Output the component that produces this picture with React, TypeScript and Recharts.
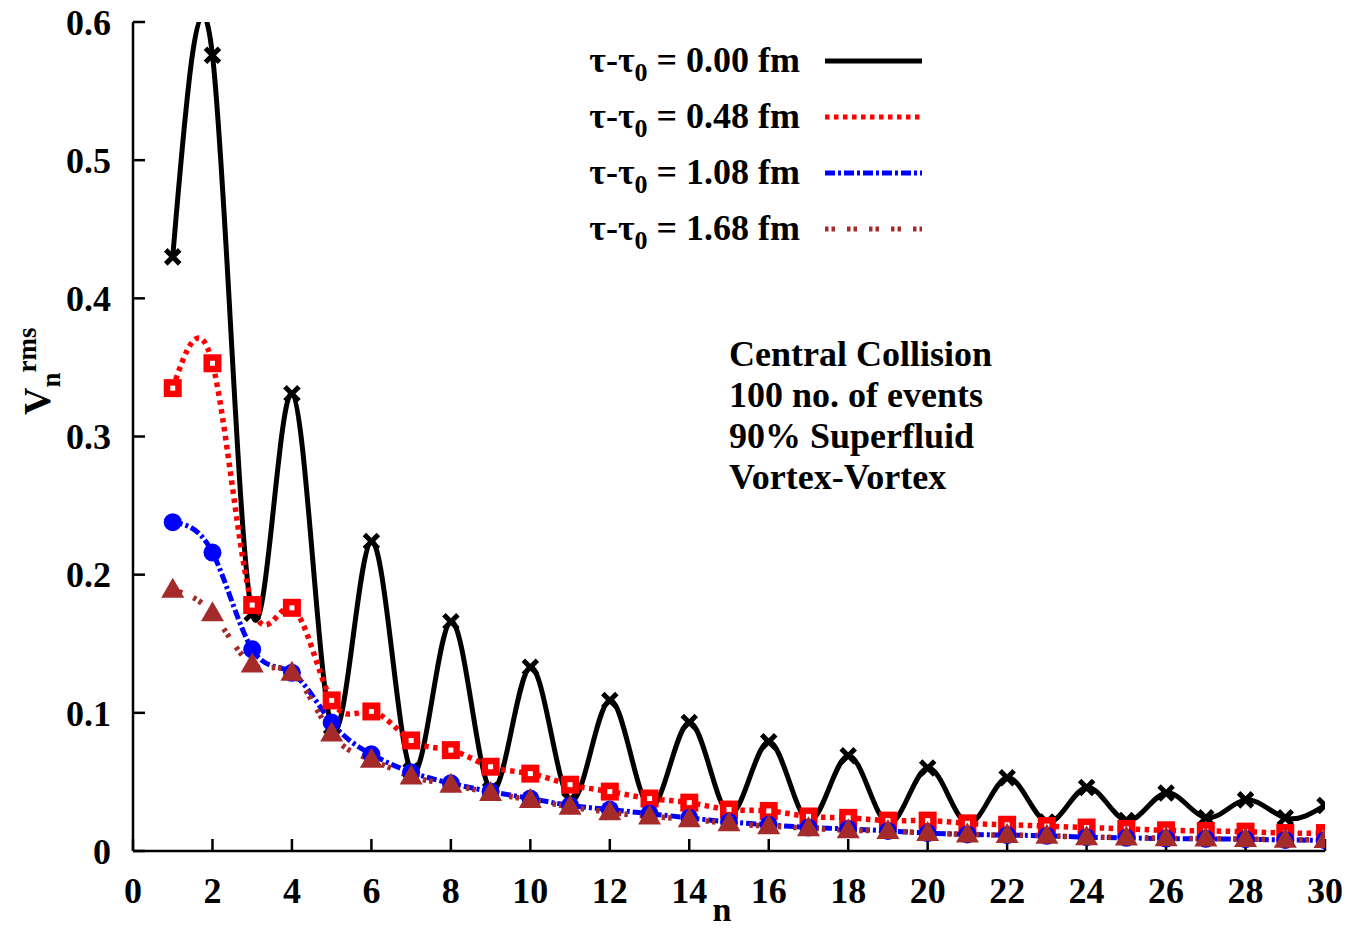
import React from 'react';
import { LineChart, Line, XAxis, YAxis } from 'recharts';

const nValues = [1,2,3,4,5,6,7,8,9,10,11,12,13,14,15,16,17,18,19,20,21,22,23,24,25,26,27,28,29,30];
const tau000 = [0.430,0.576,0.172,0.331,0.090,0.224,0.058,0.166,0.044,0.133,0.037,0.109,0.032,0.093,0.027,0.079,0.022,0.069,0.020,0.060,0.020,0.053,0.021,0.046,0.022,0.042,0.024,0.037,0.024,0.033];
const tau048 = [0.335,0.353,0.178,0.176,0.109,0.101,0.080,0.073,0.061,0.056,0.048,0.043,0.038,0.035,0.030,0.029,0.025,0.024,0.022,0.022,0.020,0.019,0.018,0.017,0.016,0.015,0.0145,0.014,0.013,0.013];
const tau108 = [0.238,0.216,0.146,0.129,0.093,0.070,0.057,0.049,0.043,0.038,0.033,0.030,0.027,0.024,0.021,0.019,0.017,0.016,0.0145,0.013,0.012,0.0115,0.011,0.010,0.0095,0.009,0.0088,0.0085,0.008,0.0078];
const tau168 = [0.189,0.172,0.135,0.129,0.085,0.066,0.054,0.048,0.042,0.037,0.032,0.028,0.025,0.023,0.020,0.018,0.0165,0.015,0.0145,0.013,0.012,0.0115,0.011,0.010,0.0098,0.0092,0.009,0.0086,0.0082,0.008];

const xTicks = [0,2,4,6,8,10,12,14,16,18,20,22,24,26,28,30];
const yTicks = [0,0.1,0.2,0.3,0.4,0.5,0.6];
const legendLabels = ['0.00','0.48','1.08','1.68'];
const noteLines = ['Central Collision','100 no. of events','90% Superfluid','Vortex-Vortex'];

const rows = nValues.map((n, i) => ({ n, a: tau000[i], b: tau048[i], c: tau108[i], d: tau168[i] }));

const FONT = "'Liberation Serif', 'Times New Roman', serif";
const RED = '#ff0000';
const BLUE = '#0000ff';
const BROWN = '#a52a2a';

const tickStyle = { fill: '#000', fontSize: 36, fontWeight: 'bold', fontFamily: FONT } as any;
const axisLineStyle = { stroke: '#000', strokeWidth: 2.5 };

const XDot = (p: any) => {
  const { cx, cy } = p;
  if (cx == null || cy == null) return <g />;
  const s = 7;
  return (
    <path d={`M${cx - s},${cy - s}L${cx + s},${cy + s}M${cx - s},${cy + s}L${cx + s},${cy - s}`} stroke="#000" strokeWidth={5} fill="none" />
  );
};
const SquareDot = (p: any) => {
  const { cx, cy } = p;
  if (cx == null || cy == null) return <g />;
  return (
    <g>
      <rect x={cx - 9} y={cy - 9} width={18} height={18} fill={RED} />
      <rect x={cx - 2.5} y={cy - 2.5} width={5} height={5} fill="#fff" />
    </g>
  );
};
const CircleDot = (p: any) => {
  const { cx, cy } = p;
  if (cx == null || cy == null) return <g />;
  return <circle cx={cx} cy={cy} r={9} fill={BLUE} />;
};
const TriDot = (p: any) => {
  const { cx, cy } = p;
  if (cx == null || cy == null) return <g />;
  return <path d={`M${cx},${cy - 12}L${cx + 11.5},${cy + 8}L${cx - 11.5},${cy + 8}Z`} fill={BROWN} />;
};

const legendStyles = [
  { stroke: '#000', dash: undefined as string | undefined },
  { stroke: RED, dash: '4.5 4.5' },
  { stroke: BLUE, dash: '10 3 3 3' },
  { stroke: BROWN, dash: '3.5 3 3.5 12' },
];

export default function App() {
  return (
    <div style={{ position: 'relative', width: 1343, height: 917 }}>
      <LineChart width={1343} height={917} data={rows} margin={{ top: 14, right: 26, left: 0, bottom: 0 }}>
        <XAxis
          dataKey="n"
          type="number"
          domain={[0, 30]}
          ticks={xTicks}
          allowDataOverflow
          height={74}
          tickSize={-12}
          tickMargin={38}
          axisLine={axisLineStyle}
          tickLine={axisLineStyle}
          tick={tickStyle}
          interval={0}
        />
        <XAxis
          xAxisId="top"
          orientation="top"
          type="number"
          domain={[0, 30]}
          ticks={xTicks}
          height={0}
          tickSize={-12}
          tickFormatter={() => ''}
          axisLine={axisLineStyle}
          tickLine={axisLineStyle}
          interval={0}
        />
        <YAxis
          type="number"
          domain={[0, 0.6]}
          ticks={yTicks}
          allowDataOverflow
          width={125}
          tickSize={-12}
          tickMargin={34}
          axisLine={axisLineStyle}
          tickLine={axisLineStyle}
          tick={tickStyle}
          interval={0}
          tickFormatter={(v: number) => (v === 0 ? '0' : v.toFixed(1))}
        />
        <YAxis
          yAxisId="right"
          orientation="right"
          type="number"
          domain={[0, 0.6]}
          ticks={yTicks}
          width={0}
          tickSize={-12}
          tickFormatter={() => ''}
          axisLine={axisLineStyle}
          tickLine={axisLineStyle}
          interval={0}
        />
        <Line type="natural" dataKey="a" stroke="#000" strokeWidth={5} dot={XDot} activeDot={false} isAnimationActive={false} />
        <Line type="natural" dataKey="b" stroke={RED} strokeWidth={5.5} strokeDasharray="4.5 4.5" dot={SquareDot} activeDot={false} isAnimationActive={false} />
        <Line type="natural" dataKey="c" stroke={BLUE} strokeWidth={5} strokeDasharray="10 3 3 3" dot={CircleDot} activeDot={false} isAnimationActive={false} />
        <Line type="natural" dataKey="d" stroke={BROWN} strokeWidth={5.5} strokeDasharray="3.5 3 3.5 12" dot={TriDot} activeDot={false} isAnimationActive={false} />
      </LineChart>
      <svg width={1343} height={917} style={{ position: 'absolute', left: 0, top: 0, pointerEvents: 'none' }}>
        {legendLabels.map((lab, i) => {
          const yLine = 53 + i * 56;
          const st = legendStyles[i];
          return (
            <g key={lab}>
              <text x={792} y={yLine + 11} textAnchor="end" fontFamily={FONT} fontWeight="bold" fontSize={36} fill="#000">
                τ-τ<tspan dy={9} fontSize={26}>0</tspan><tspan dy={-9}> = {lab} fm</tspan>
              </text>
              <line x1={817} x2={914} y1={yLine} y2={yLine} stroke={st.stroke} strokeWidth={5} strokeDasharray={st.dash} />
            </g>
          );
        })}
        {noteLines.map((t, i) => (
          <text key={t} x={721} y={358 + i * 41} fontFamily={FONT} fontWeight="bold" fontSize={36} fill="#000">{t}</text>
        ))}
        <text x={714} y={913} textAnchor="middle" fontFamily={FONT} fontWeight="bold" fontSize={34} fill="#000">n</text>
        <text x={42} y={407} transform="rotate(-90, 42, 407)" fontFamily={FONT} fontWeight="bold" fill="#000">
          <tspan fontSize={38}>V</tspan>
          <tspan dy={10} fontSize={27}>n</tspan>
          <tspan dy={-24} fontSize={27}>rms</tspan>
        </text>
      </svg>
    </div>
  );
}
